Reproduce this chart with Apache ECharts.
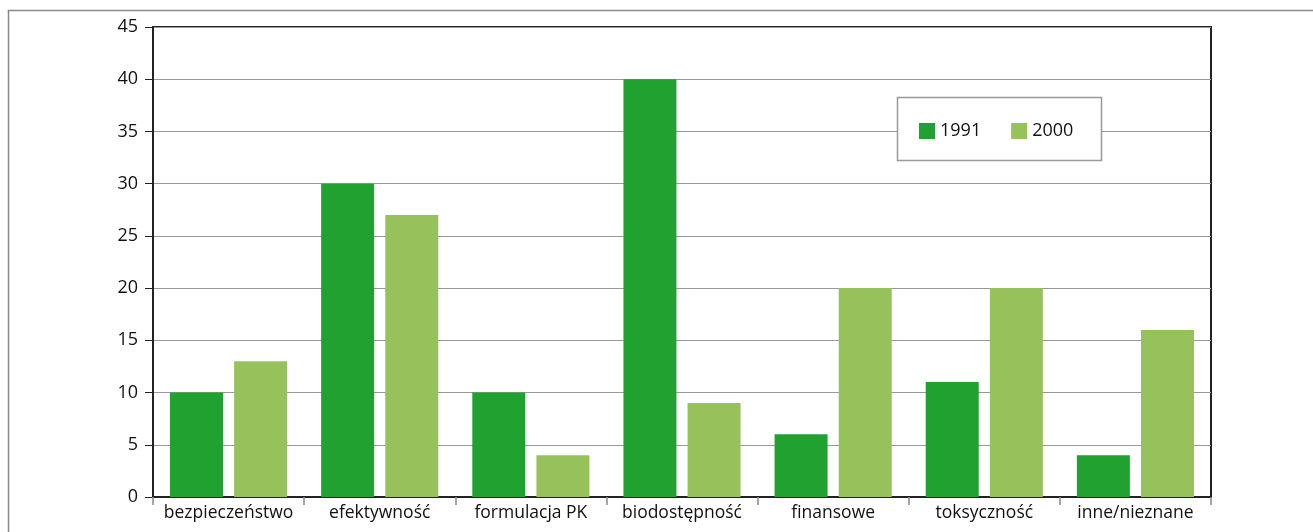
<!DOCTYPE html>
<html>
<head>
<meta charset="utf-8">
<script src="https://cdn.jsdelivr.net/npm/echarts@6/dist/echarts.min.js"></script>
<style>
  html, body { margin: 0; padding: 0; background: #fff; }
  #chart { width: 1313px; height: 532px; }
</style>
</head>
<body>
<div id="chart"></div>
<script>
// Categories and values per year
const categories = ['bezpieczeństwo', 'efektywność', 'formulacja PK', 'biodostępność', 'finansowe', 'toksyczność', 'inne/nieznane'];
const values1991 = [10, 30, 10, 40, 6, 11, 4];
const values2000 = [13, 27, 4, 9, 20, 20, 16];
const seriesNames = ['1991', '2000'];

const FONT = '"Open Sans", "Noto Sans", sans-serif';
const chart = echarts.init(document.getElementById('chart'), null, { renderer: 'canvas' });

chart.setOption({
  animation: false,
  backgroundColor: '#fff',
  textStyle: { fontFamily: FONT },
  grid: {
    left: 153, right: 102, top: 27, bottom: 35,
    show: true, borderColor: '#222', borderWidth: 2, backgroundColor: 'transparent'
  },
  graphic: [{
    type: 'rect', z: -10, silent: true,
    shape: { x: 8.5, y: 10.5, width: 1320, height: 540 },
    style: { fill: 'none', stroke: '#888', lineWidth: 1.5 }
  }, {
    type: 'rect', z: 5, silent: true,
    shape: { x: 897.5, y: 97.5, width: 204, height: 63 },
    style: { fill: '#fff', stroke: '#999', lineWidth: 1.5 }
  }],
  legend: {
    z: 10,
    left: 914, top: 117,
    itemWidth: 16, itemHeight: 16, itemGap: 30,
    icon: 'rect',
    textStyle: { fontSize: 18, color: '#111', fontFamily: FONT },
    data: seriesNames
  },
  xAxis: {
    type: 'category',
    data: categories,
    axisLine: { lineStyle: { color: '#222', width: 2 } },
    axisTick: { show: true, length: 8, lineStyle: { color: '#888', width: 1.5 } },
    axisLabel: { fontSize: 17.5, color: '#111', margin: 7, interval: 0, fontFamily: FONT }
  },
  yAxis: {
    type: 'value',
    min: 0, max: 45, interval: 5,
    axisLine: { show: true, lineStyle: { color: '#222', width: 2 } },
    axisTick: { show: true, length: 8, lineStyle: { color: '#222', width: 1 } },
    axisLabel: { fontSize: 18, color: '#111', margin: 15, fontFamily: FONT },
    splitLine: { show: true, lineStyle: { color: '#999', width: 1.2 } }
  },
  series: [{
    name: seriesNames[0], type: 'bar', data: values1991,
    barWidth: 53, barGap: '21%',
    itemStyle: { color: '#21a130' }
  }, {
    name: seriesNames[1], type: 'bar', data: values2000,
    barWidth: 53, barGap: '21%',
    itemStyle: { color: '#97c15a' }
  }]
});
</script>
</body>
</html>
